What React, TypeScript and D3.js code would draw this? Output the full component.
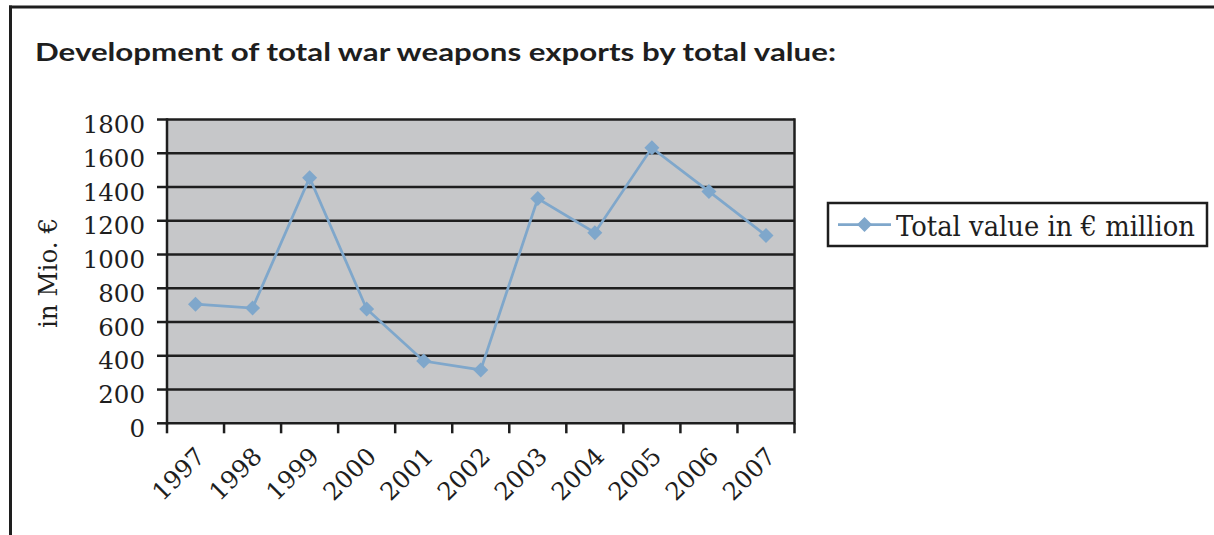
import React, { useEffect, useRef } from "react";
import * as d3 from "d3";

const years = ["1997", "1998", "1999", "2000", "2001", "2002", "2003", "2004", "2005", "2006", "2007"];
const totalValue = [706, 683, 1455, 677, 369, 316, 1332, 1129, 1632, 1374, 1113];
const yTicks = [0, 200, 400, 600, 800, 1000, 1200, 1400, 1600, 1800];
const titleText = "Development of total war weapons exports by total value:";
const yAxisTitle = "in Mio. €";
const seriesName = "Total value in € million";

const W = 1214;
const H = 535;
const plot = { left: 167, right: 794.5, top: 119.5, bottom: 423.3 };
const lineColor = "#7FA7CB";
const ink = "#1e1e1e";
const serif = "'DejaVu Serif', serif";

function fitText(sel: any, target: number) {
  const node = sel.node();
  if (!node) return;
  const len = node.getComputedTextLength();
  if (len > 0) {
    sel.attr("textLength", target).attr("lengthAdjust", "spacingAndGlyphs");
  }
}

const diamondPath = (r: number) => `M0,${-r}L${r},0L0,${r}L${-r},0Z`;

export default function App() {
  const ref = useRef<SVGSVGElement>(null);

  useEffect(() => {
    const svg = d3.select(ref.current);
    svg.selectAll("*").remove();

    const x = d3.scaleBand<string>().domain(years).range([plot.left, plot.right]).padding(0);
    const y = d3.scaleLinear().domain([0, 1800]).range([plot.bottom, plot.top]);

    // outer frame (top + left only)
    svg.append("line").attr("x1", 9).attr("x2", W).attr("y1", 7).attr("y2", 7)
      .attr("stroke", ink).attr("stroke-width", 3);
    svg.append("line").attr("x1", 10.5).attr("x2", 10.5).attr("y1", 5.5).attr("y2", H)
      .attr("stroke", ink).attr("stroke-width", 3);

    // title
    const t = svg.append("text").attr("x", 35).attr("y", 61)
      .attr("font-family", "Lato, 'Open Sans', sans-serif").attr("font-weight", 700)
      .attr("font-size", 25).attr("fill", ink).text(titleText);
    fitText(t, 801);

    // plot background
    svg.append("rect").attr("x", plot.left).attr("y", plot.top)
      .attr("width", plot.right - plot.left).attr("height", plot.bottom - plot.top)
      .attr("fill", "#C6C7C9");

    // gridlines
    svg.append("g").selectAll("line").data(yTicks).join("line")
      .attr("x1", plot.left).attr("x2", plot.right)
      .attr("y1", (d) => y(d)).attr("y2", (d) => y(d))
      .attr("stroke", ink).attr("stroke-width", 2.5);

    // plot border sides
    svg.append("line").attr("x1", plot.left).attr("x2", plot.left)
      .attr("y1", plot.top - 1.25).attr("y2", plot.bottom + 1.25).attr("stroke", ink).attr("stroke-width", 2.5);
    svg.append("line").attr("x1", plot.right).attr("x2", plot.right)
      .attr("y1", plot.top - 1.25).attr("y2", plot.bottom + 1.25).attr("stroke", ink).attr("stroke-width", 2.5);

    // y ticks + labels
    const yg = svg.append("g");
    yg.selectAll("line").data(yTicks).join("line")
      .attr("x1", plot.left - 10).attr("x2", plot.left)
      .attr("y1", (d) => y(d)).attr("y2", (d) => y(d))
      .attr("stroke", ink).attr("stroke-width", 2.5);
    yg.selectAll("text").data(yTicks).join("text")
      .attr("x", 145).attr("y", (d) => y(d) + 13.5)
      .attr("text-anchor", "end").attr("font-family", serif).attr("font-size", 24.5)
      .attr("fill", ink).text((d) => String(d));

    // x ticks at band boundaries
    const bounds = years.map((yr) => x(yr) as number).concat([plot.right]);
    svg.append("g").selectAll("line").data(bounds).join("line")
      .attr("x1", (d) => d).attr("x2", (d) => d)
      .attr("y1", plot.bottom).attr("y2", plot.bottom + 10)
      .attr("stroke", ink).attr("stroke-width", 2.5);

    // x labels
    svg.append("g").selectAll("text").data(years).join("text")
      .attr("transform", (d) => `translate(${(x(d) as number) + x.bandwidth() / 2 + 11},458) rotate(-45)`)
      .attr("text-anchor", "end").attr("font-family", serif).attr("font-size", 24.5)
      .attr("fill", ink).text((d) => d);

    // y axis title
    const yt = svg.append("text").attr("transform", "translate(57,273) rotate(-90)")
      .attr("text-anchor", "middle").attr("font-family", serif).attr("font-size", 26)
      .attr("fill", ink).text(yAxisTitle);
    fitText(yt, 110);

    // series line
    const cx = (i: number) => (x(years[i]) as number) + x.bandwidth() / 2;
    const line = d3.line<number>().x((_, i) => cx(i)).y((d) => y(d));
    svg.append("path").datum(totalValue).attr("d", line).attr("fill", "none")
      .attr("stroke", lineColor).attr("stroke-width", 2.75);

    svg.append("g").selectAll("path").data(totalValue).join("path")
      .attr("transform", (d, i) => `translate(${cx(i)},${y(d)})`)
      .attr("d", diamondPath(7.5)).attr("fill", lineColor);

    // legend
    const lg = svg.append("g");
    lg.append("rect").attr("x", 828).attr("y", 203).attr("width", 379).attr("height", 43)
      .attr("fill", "white").attr("stroke", ink).attr("stroke-width", 2.5);
    lg.append("line").attr("x1", 838).attr("x2", 891).attr("y1", 224.5).attr("y2", 224.5)
      .attr("stroke", lineColor).attr("stroke-width", 2.75);
    lg.append("path").attr("transform", "translate(864.5,224.5)").attr("d", diamondPath(7.5)).attr("fill", lineColor);
    const lt = lg.append("text").attr("x", 896).attr("y", 236).attr("font-family", serif)
      .attr("font-size", 27).attr("fill", ink).text(seriesName);
    fitText(lt, 299);
  }, []);

  return (
    <svg ref={ref} width={W} height={H} style={{ position: "absolute", left: 0, top: 0, background: "white" }} />
  );
}
